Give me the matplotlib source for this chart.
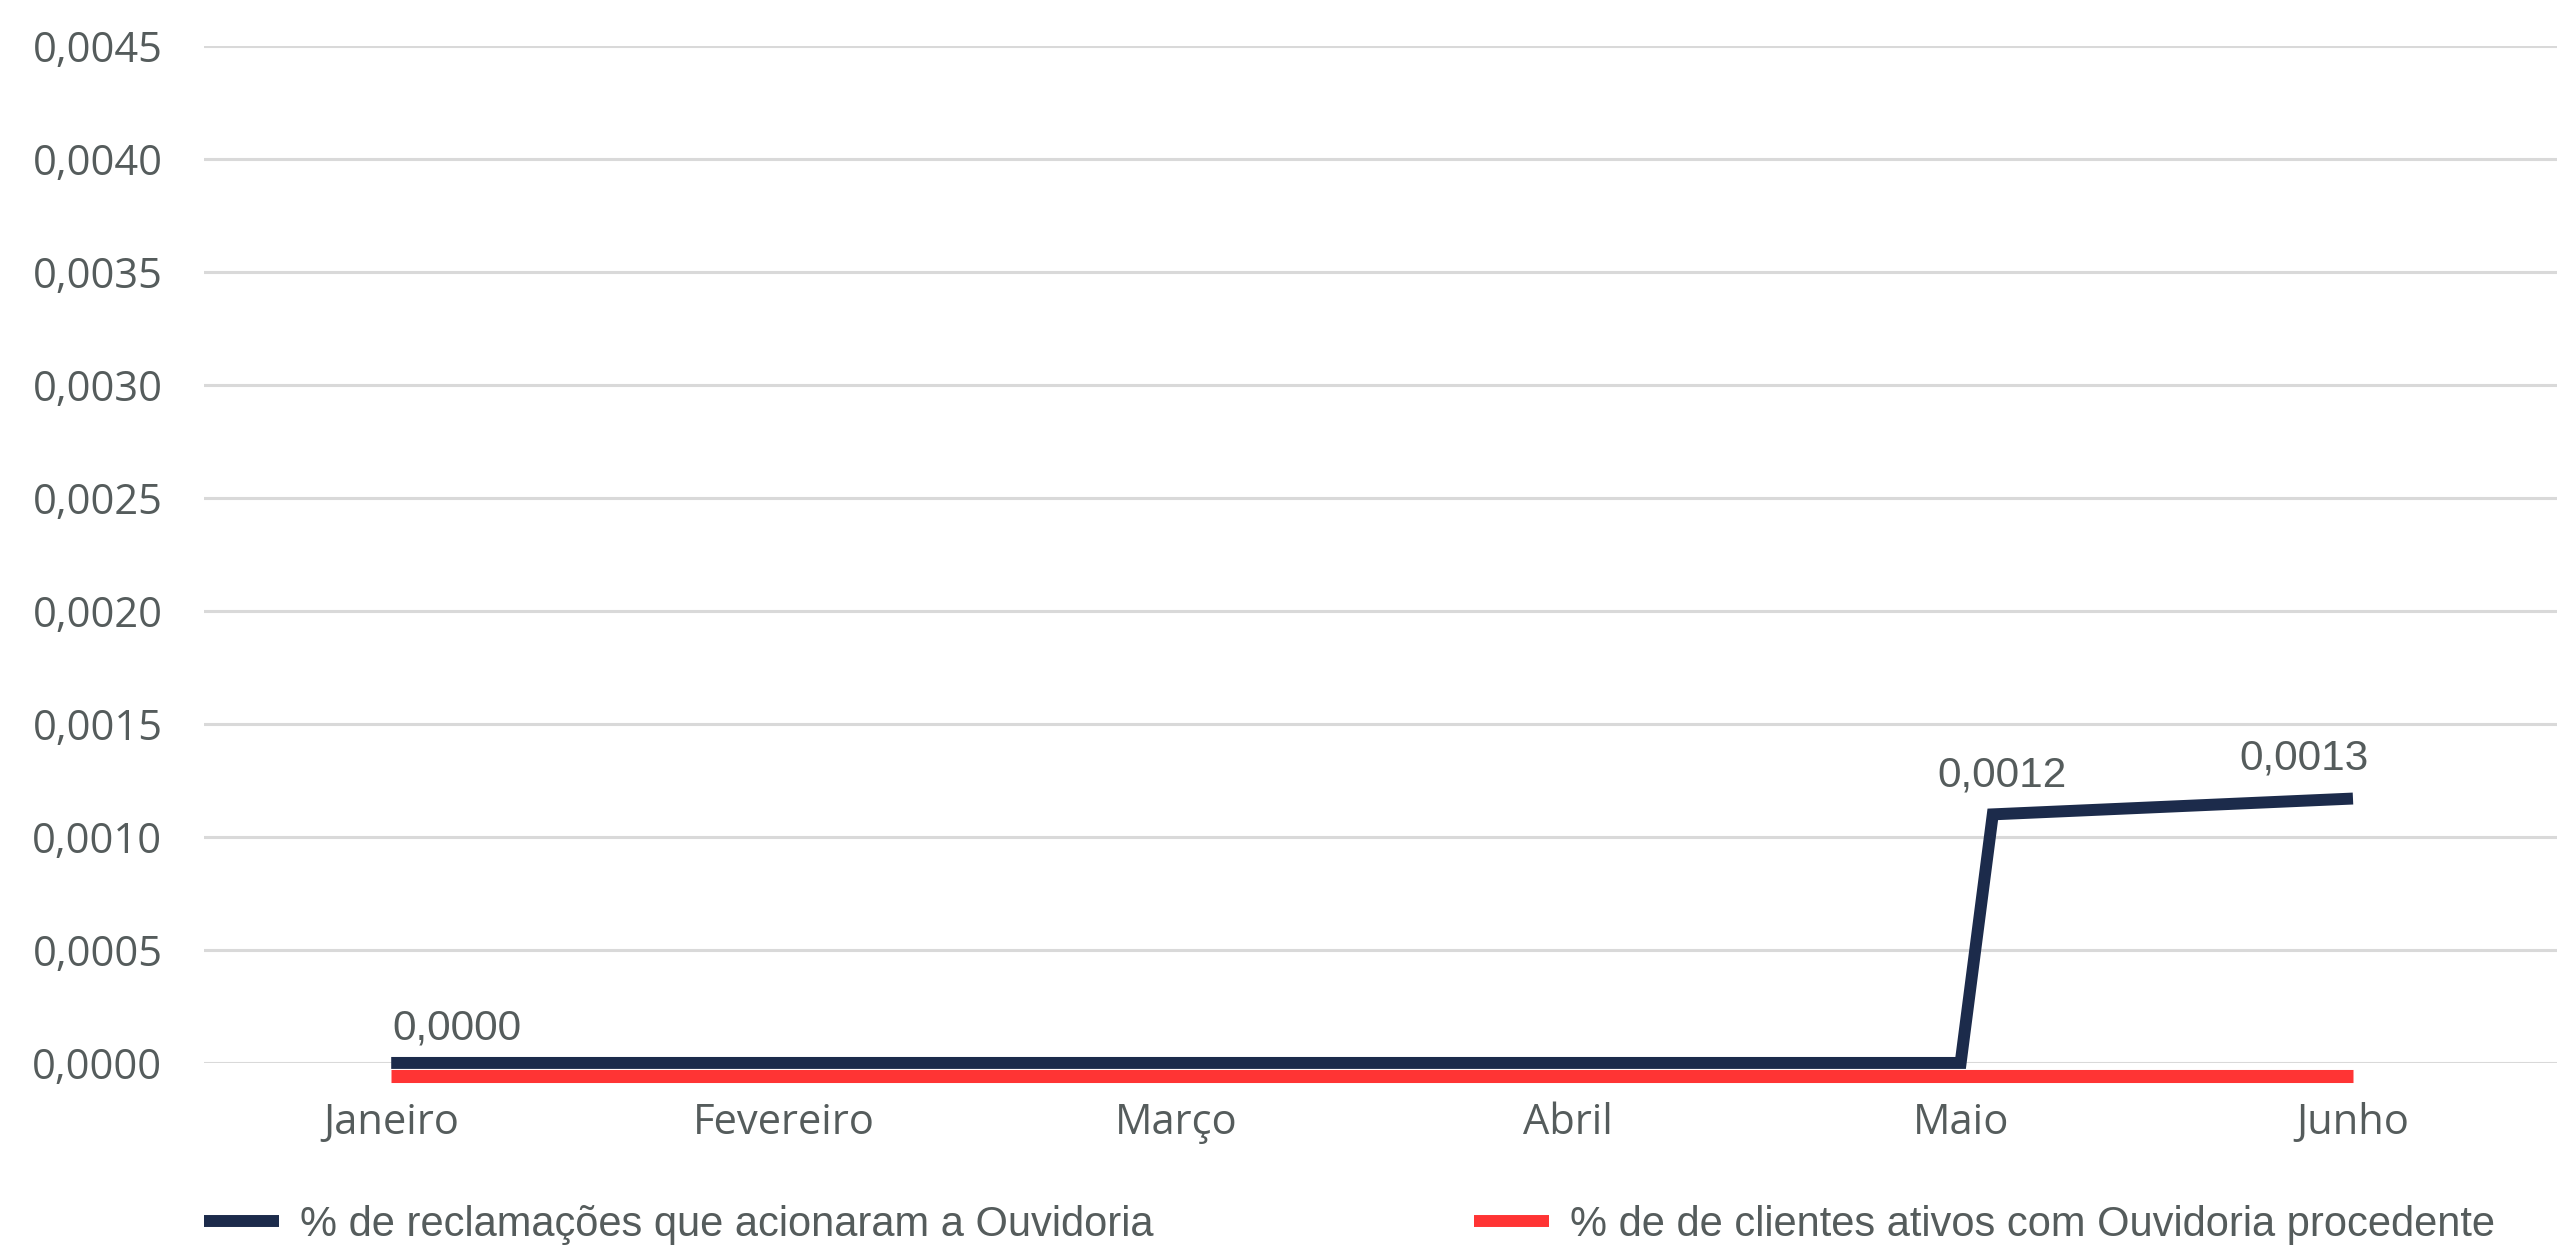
# Linha mensal: % de reclamações que acionaram a Ouvidoria

import matplotlib
matplotlib.use('Agg')
import matplotlib.pyplot as plt
import matplotlib.transforms as mtransforms
from matplotlib.lines import Line2D

# Dados
#------
meses = ['Janeiro', 'Fevereiro', 'Março', 'Abril', 'Maio', 'Junho']
reclamacoes = [0.0, 0.0, 0.0, 0.0, 0.00110, 0.00117]
clientes_ativos = [0.0, 0.0, 0.0, 0.0, 0.0, 0.0]
rotulos_meses = ['Janeiro', 'Maio', 'Junho']
rotulos_texto = ['0,0000', '0,0012', '0,0013']
y_ticks = [0.0000, 0.0005, 0.0010, 0.0015, 0.0020, 0.0025, 0.0030, 0.0035, 0.0040, 0.0045]
legenda = ['% de reclamações que acionaram a Ouvidoria',
           '% de de clientes ativos com Ouvidoria procedente']

# Estilo
#-------
azul = '#1c2b4b'
vermelho = '#ff3434'
cinza_texto = '#555c5c'
cinza_grade = '#d9d9d9'
fonte_eixo = 'Open Sans'
fonte_rotulo = 'Liberation Sans'

fig = plt.figure(figsize=(25.57, 12.47), dpi=100)
ax = fig.add_axes([0.0798, 0.1476, 0.9202, 0.8155])

pos = list(range(len(meses)))
# a subida de Maio aparece quase vertical logo depois do mês
subida = 0.082
xs = pos[:5] + [pos[4] + subida, pos[5]]
ys = reclamacoes[:4] + [reclamacoes[3], reclamacoes[4], reclamacoes[5]]

desloc = mtransforms.offset_copy(ax.transData, fig=fig, x=0, y=-9.2, units='points')
ax.plot(pos, clientes_ativos, color=vermelho, lw=9.4, solid_capstyle='butt',
        transform=desloc, clip_on=False, zorder=3)
ax.plot(xs, ys, color=azul, lw=8.6, solid_capstyle='butt', solid_joinstyle='miter',
        clip_on=False, zorder=4)

# rótulos de dados
dx = {'Janeiro': 47, 'Maio': 30, 'Junho': -35}
dy = {'Janeiro': 25, 'Maio': 28, 'Junho': 29}
for mes, txt in zip(rotulos_meses, rotulos_texto):
    i = meses.index(mes)
    yv = reclamacoes[i]
    ax.annotate(txt, (pos[i], yv), xytext=(dx[mes], dy[mes]), textcoords='offset points',
                ha='center', va='center', fontsize=30.5, color=cinza_texto,
                family=fonte_rotulo)

ax.set_xlim(-0.477, 5.52)
ax.set_ylim(0, 0.0045)
ax.set_yticks(y_ticks)
ax.set_yticklabels([f'{v:.4f}'.replace('.', ',') for v in y_ticks],
                   fontsize=30, color=cinza_texto, family=fonte_eixo)
ax.set_xticks(pos)
ax.set_xticklabels(meses, fontsize=30, color=cinza_texto, family=fonte_eixo)
ax.tick_params(axis='both', length=0)
ax.tick_params(axis='y', pad=30)
ax.tick_params(axis='x', pad=28)
ax.grid(axis='y', color=cinza_grade, lw=2.2)
ax.set_axisbelow(True)
for s in ax.spines.values():
    s.set_visible(False)

handles = [Line2D([], [], color=azul, lw=8.6, solid_capstyle='butt'),
           Line2D([], [], color=vermelho, lw=8.6, solid_capstyle='butt')]
fig.legend(handles, legenda, loc='center left', bbox_to_anchor=(204 / 2557, 1 - 1225 / 1247),
           ncol=2, frameon=False, borderpad=0, borderaxespad=0,
           handlelength=1.8, handletextpad=0.5, columnspacing=7.7,
           prop={'family': fonte_rotulo, 'size': 30}, labelcolor=cinza_texto)

fig.savefig('out.png', dpi=100, facecolor='white')
